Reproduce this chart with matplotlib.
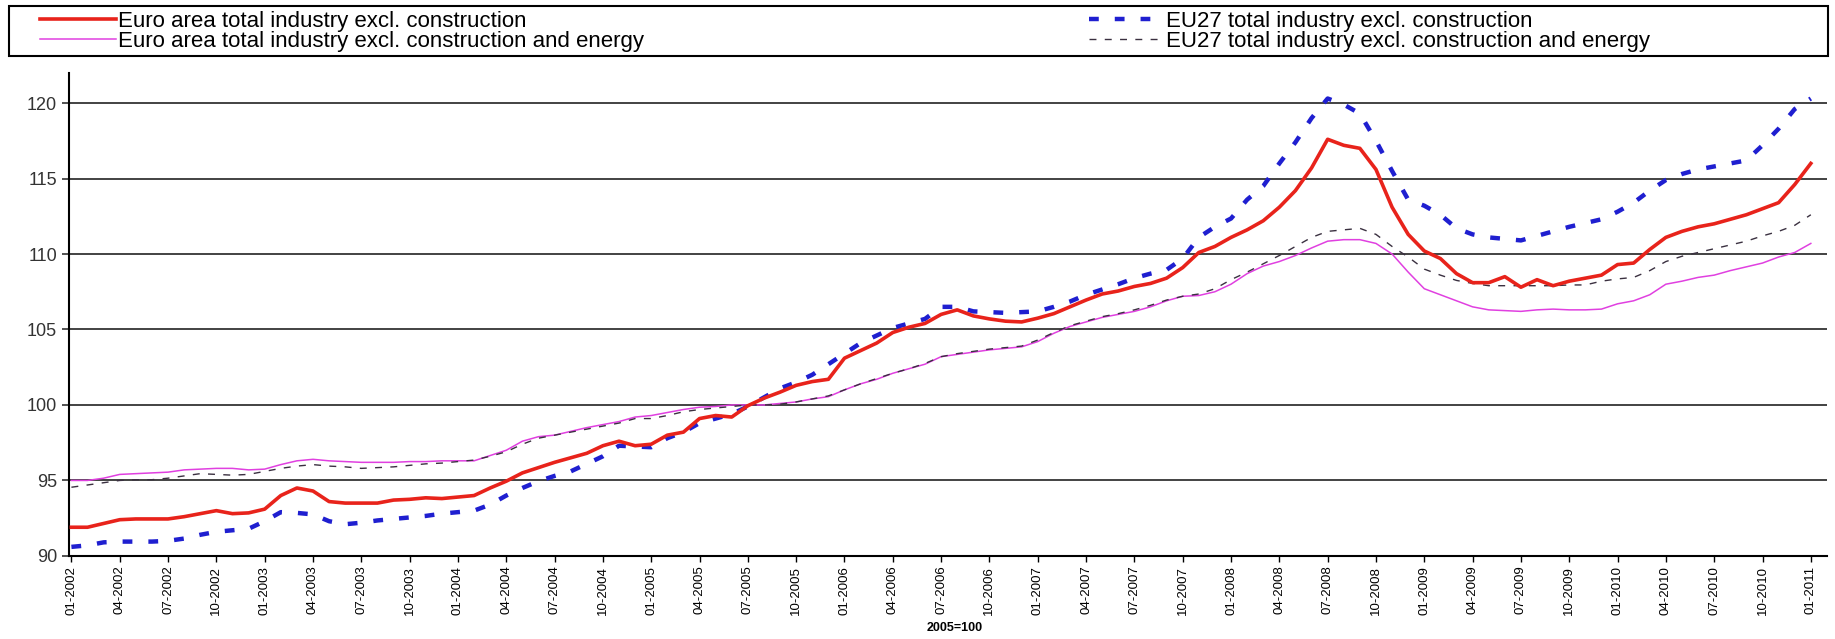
import matplotlib
matplotlib.use("Agg")
import matplotlib.pyplot as plt
from matplotlib.patches import Rectangle

plt.rcParams['font.family'] = ['Liberation Sans', 'DejaVu Sans']

# --- donnees (indices des prix a la production, 2005=100), mensuel 01-2002 .. 01-2011 ---
mois = [f"{m:02d}-{a}" for a in range(2002, 2012) for m in range(1, 13)][:109]

ea_total = [91.9, 91.9, 92.15, 92.4, 92.45, 92.45, 92.45, 92.6, 92.8, 93.0, 92.8, 92.85,
            93.1, 94.0, 94.5, 94.3, 93.6, 93.5, 93.5, 93.5, 93.7, 93.75, 93.85, 93.8,
            93.9, 94.0, 94.5, 94.95, 95.5, 95.85, 96.2, 96.5, 96.8, 97.3, 97.6, 97.3,
            97.4, 98.0, 98.2, 99.1, 99.3, 99.2, 99.95, 100.45, 100.85, 101.3, 101.55, 101.7,
            103.1, 103.6, 104.1, 104.8, 105.15, 105.4, 106.0, 106.3, 105.9, 105.7, 105.55, 105.5,
            105.75, 106.05, 106.5, 106.95, 107.35, 107.55, 107.85, 108.05, 108.4, 109.1, 110.1, 110.5,
            111.1, 111.6, 112.2, 113.1, 114.2, 115.7, 117.6, 117.2, 117.0, 115.6, 113.1, 111.3,
            110.2, 109.7, 108.7, 108.1, 108.1, 108.5, 107.8, 108.3, 107.9, 108.2, 108.4, 108.6,
            109.3, 109.4, 110.3, 111.1, 111.5, 111.8, 112.0, 112.3, 112.6, 113.0, 113.4, 114.6,
            116.0]

ea_hors_energie = [95.0, 95.0, 95.15, 95.4, 95.45, 95.5, 95.55, 95.7, 95.75, 95.8, 95.8, 95.7,
                   95.75, 96.05, 96.3, 96.4, 96.3, 96.25, 96.2, 96.2, 96.2, 96.25, 96.25, 96.3,
                   96.3, 96.3, 96.65, 97.0, 97.6, 97.9, 98.0, 98.25, 98.5, 98.7, 98.9, 99.2,
                   99.3, 99.5, 99.7, 99.85, 99.9, 100.0, 100.0, 100.0, 100.1, 100.2, 100.4, 100.55,
                   101.0, 101.4, 101.7, 102.1, 102.4, 102.7, 103.2, 103.35, 103.5, 103.65, 103.75, 103.85,
                   104.2, 104.75, 105.2, 105.5, 105.8, 106.0, 106.2, 106.5, 106.9, 107.2, 107.25, 107.5,
                   108.0, 108.7, 109.2, 109.5, 109.9, 110.4, 110.85, 110.95, 110.95, 110.7, 110.0, 108.8,
                   107.7, 107.3, 106.9, 106.5, 106.3, 106.25, 106.2, 106.3, 106.35, 106.3, 106.3, 106.35,
                   106.7, 106.9, 107.3, 108.0, 108.2, 108.45, 108.6, 108.9, 109.15, 109.4, 109.8, 110.1,
                   110.7]

eu27_total = [90.6, 90.7, 90.9, 90.95, 90.95, 90.95, 91.0, 91.15, 91.4, 91.6, 91.7, 91.8,
              92.3, 92.9, 92.85, 92.75, 92.3, 92.1, 92.2, 92.35, 92.45, 92.55, 92.65, 92.8,
              92.9, 93.0, 93.4, 94.0, 94.5, 94.95, 95.3, 95.6, 96.1, 96.6, 97.3, 97.25,
              97.2, 97.8, 98.2, 98.8, 99.1, 99.4, 99.9, 100.5, 101.1, 101.5, 102.0, 102.7,
              103.4, 104.1, 104.6, 105.1, 105.4, 105.7, 106.5, 106.5, 106.2, 106.15, 106.1, 106.15,
              106.2, 106.5, 106.85, 107.3, 107.65, 108.0, 108.4, 108.7, 108.95, 109.7, 111.1, 111.8,
              112.35, 113.6, 114.5, 116.0, 117.4, 119.0, 120.3, 119.9, 119.3, 117.5, 115.5, 113.6,
              113.2, 112.6, 111.7, 111.3, 111.1, 111.0, 110.9, 111.2, 111.5, 111.8, 112.05, 112.3,
              112.8, 113.4, 114.2, 114.9, 115.3, 115.6, 115.8, 116.0, 116.2, 117.2, 118.3, 119.6,
              120.3]

eu27_hors_energie = [94.55, 94.7, 94.85, 95.0, 95.05, 95.05, 95.15, 95.3, 95.45, 95.4, 95.35, 95.4,
                     95.6, 95.8, 95.95, 96.05, 95.95, 95.9, 95.8, 95.85, 95.9, 96.0, 96.1, 96.15,
                     96.25, 96.35, 96.6, 96.9, 97.4, 97.8, 98.0, 98.2, 98.4, 98.6, 98.8, 99.1,
                     99.1, 99.3, 99.55, 99.7, 99.8, 99.9, 100.0, 100.0, 100.05, 100.2, 100.4, 100.6,
                     101.0, 101.4, 101.75, 102.1, 102.4, 102.75, 103.2, 103.4, 103.55, 103.7, 103.8, 103.9,
                     104.3, 104.8, 105.25, 105.55, 105.85, 106.05, 106.3, 106.6, 106.95, 107.2, 107.35, 107.7,
                     108.3, 108.8, 109.35, 109.9, 110.5, 111.1, 111.5, 111.6, 111.7, 111.3, 110.5, 109.8,
                     109.0, 108.6, 108.25, 108.05, 107.9, 107.9, 107.9, 107.9, 107.9, 107.95, 107.95, 108.2,
                     108.35, 108.45, 108.9, 109.5, 109.85, 110.1, 110.35, 110.6, 110.85, 111.2, 111.5, 111.9,
                     112.6]

noms = ["Euro area total industry excl. construction",
        "Euro area total industry excl. construction and energy",
        "EU27 total industry excl. construction",
        "EU27 total industry excl. construction and energy"]

x = list(range(len(mois)))

fig = plt.figure(figsize=(18.35, 6.39), dpi=100)
ax = fig.add_axes([0.0376, 0.130, 0.958, 0.756])

ax.plot(x, ea_total, color="#e8231b", lw=2.6, label=noms[0], zorder=5)
ax.plot(x, ea_hors_energie, color="#e040e0", lw=1.1, label=noms[1], zorder=3)
ax.plot(x, eu27_total, color="#1f1fd0", lw=3.2, ls=(0, (2.2, 3.6)), label=noms[2], zorder=4)
ax.plot(x, eu27_hors_energie, color="#3a3040", lw=1.0, ls=(0, (5, 6)), label=noms[3], zorder=4)

ax.set_xlim(-0.15, 109)
ax.set_ylim(90, 122)
ax.set_yticks(range(90, 121, 5))
ax.set_xticks(x[::3])
ax.set_xticklabels(mois[::3], rotation=90, fontsize=9.5)
ax.tick_params(axis="y", labelsize=13, direction="out", length=5, width=1.2, colors="#333333")
ax.tick_params(axis="x", direction="out", length=4, width=1.0, pad=3)

for v in range(95, 121, 5):
    ax.axhline(v, color="#222222", lw=1.2, zorder=1)

for s in ["top", "right"]:
    ax.spines[s].set_visible(False)
for s in ["left", "bottom"]:
    ax.spines[s].set_linewidth(1.5)

# legende sur deux colonnes dans un cadre pleine largeur
fig.patches.append(Rectangle((0.005, 0.912), 0.991, 0.078, transform=fig.transFigure,
                             fill=False, edgecolor="black", lw=1.5))
fig.legend(loc="center left", bbox_to_anchor=(0.016, 0.951), ncol=2, frameon=False,
           fontsize=16, handlelength=3.4, handletextpad=0.1, labelspacing=-0.05,
           columnspacing=20, borderpad=0.0)

fig.text(0.52, 0.008, "2005=100", ha="center", va="bottom", fontsize=9, fontweight="bold")

fig.savefig("out.png", dpi=100)
